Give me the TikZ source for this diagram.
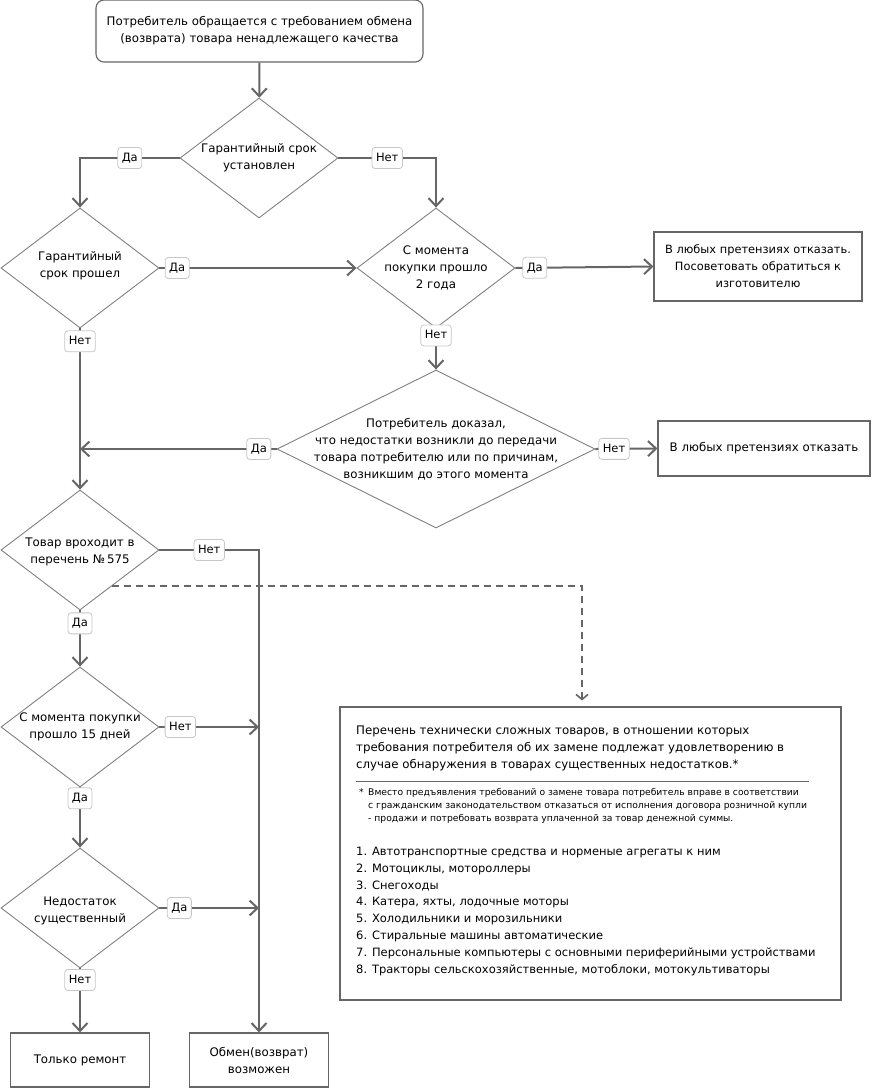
\documentclass[tikz,border=0pt]{standalone}
\usepackage{fontspec}
\setmainfont{DejaVu Sans}
\usetikzlibrary{shapes.geometric,arrows.meta,calc}

\begin{document}
\begin{tikzpicture}[x=1pt,y=-1pt,
    every node/.style={font=\fontsize{11.8}{17}\selectfont},
    dec/.style={diamond,draw=black!50,line width=0.9pt,minimum width=158,minimum height=120,inner sep=0pt},
    dtext/.style={align=center,inner sep=0pt},
    outbox/.style={draw=black!60,line width=1.1pt,align=center,inner sep=0pt},
    lbl/.style={draw=black!22,fill=white,rounded corners=3pt,line width=0.8pt,inner xsep=4pt,inner ysep=0pt,
                minimum height=21,text height=9.5pt,text depth=2.5pt,font=\fontsize{11.5}{14}\selectfont},
    arr/.style={draw=black!60,line width=2pt,-{Straight Barb[length=8pt,width=15pt]}},
    darr/.style={draw=black!60,line width=1.6pt,dash pattern=on 7pt off 5pt,-{Straight Barb[length=5pt,width=12pt]},shorten >=6pt}]

    \useasboundingbox (0,0) rectangle (873,1088);

    \node[outbox,rounded corners=8pt,minimum width=327,minimum height=62] (start) at (259.5,31)
        {Потребитель обращается с требованием обмена\\(возврата) товара ненадлежащего качества};

    \node[dec] (d1) at (259,158) {};
    \node[dtext] at (d1) {Гарантийный срок\\установлен};

    \node[dec] (d2) at (80,268) {};
    \node[dtext] at ($(d2)+(0,-2)$) {Гарантийный\\срок прошел};

    \node[dec] (d3) at (436,268) {};
    \node[dtext] at (d3) {С момента\\покупки прошло\\2 года};

    \node[outbox,minimum width=208,minimum height=69,font=\fontsize{11.4}{17}\selectfont] (refuse1) at (758,266.5)
        {В любых претензиях отказать.\\Посоветовать обратиться к\\изготовителю};

    \node[dec,minimum width=318,minimum height=158] (d4) at (436,449) {};
    \node[dtext] at (d4) {Потребитель доказал,\\что недостатки возникли до передачи\\товара потребителю или по причинам,\\возникшим до этого момента};

    \node[outbox,minimum width=212,minimum height=55] (refuse2) at (764,448.5) {В любых претензиях отказать};

    \node[dec] (d5) at (80,550) {};
    \node[dtext] at ($(d5)+(0,2)$) {Товар вроходит в\\перечень №\,575};

    \node[dec] (d6) at (80,727) {};
    \node[dtext] at (d6) {С момента покупки\\прошло 15 дней};

    \node[dec] (d7) at (80,908) {};
    \node[dtext] at ($(d7)+(0,3)$) {Недостаток\\существенный};

    \node[outbox,minimum width=139,minimum height=54] (repair) at (80,1060) {Только ремонт};
    \node[outbox,minimum width=139,minimum height=54] (swap) at (259,1060) {Обмен(возврат)\\возможен};

    \node[outbox,minimum width=501,minimum height=293] (list) at (590.5,853.5) {};
    \node[anchor=north west,align=left,inner sep=0pt] (head) at (356,726)
        {Перечень технически сложных товаров, в отношении которых\\
         требования потребителя об их замене подлежат удовлетворению в\\
         случае обнаружения в товарах существенных недостатков.*};
    \draw[black!60,line width=0.8pt] (356,781) -- (809,781);
    \node[anchor=north west,inner sep=0pt,font=\fontsize{9.2}{13}\selectfont] (star) at (359,788) {*};
    \node[anchor=north west,align=left,inner sep=0pt,font=\fontsize{9.2}{13}\selectfont] (fnote) at (368,788)
        {Вместо предъявления требований о замене товара потребитель вправе в соответствии\\
         с гражданским законодательством отказаться от исполнения договора розничной купли\\
         - продажи и потребовать возврата уплаченной за товар денежной суммы.};
    \node[anchor=north west,align=left,inner sep=0pt,font=\fontsize{11.5}{16.8}\selectfont] (items) at (356,847)
        {1. Автотранспортные средства и норменые агрегаты к ним\\
         2. Мотоциклы, мотороллеры\\
         3. Снегоходы\\
         4. Катера, яхты, лодочные моторы\\
         5. Холодильники и морозильники\\
         6. Стиральные машины автоматические\\
         7. Персональные компьютеры с основными периферийными устройствами\\
         8. Тракторы сельскохозяйственные, мотоблоки, мотокультиваторы};

    \coordinate (j1) at (d2.south |- d4.west);
    \coordinate (j2) at (swap.north |- d6.east);
    \coordinate (j3) at (swap.north |- d7.east);
    \coordinate (dstart) at ($(d5.east)!0.6!(d5.south)$);

    \draw[arr] (start) -- (d1);
    \draw[arr] (d1.west) -| node[lbl,pos=0.25] (l1) {Да} (d2.north);
    \draw[arr] (d1.east) -| node[lbl,pos=0.25] (l2) {Нет} (d3.north);
    \draw[arr] (d2.east) -- node[lbl,pos=0.09] (l3) {Да} (d3.west);
    \draw[arr] (d3.east) -- node[lbl,pos=0.14] (l4) {Да} (refuse1.west);
    \draw[arr] (d3.south) -- node[lbl,pos=0.17] (l5) {Нет} (d4.north);
    \draw[arr] (d4.west) -- node[lbl,pos=0.09] (l6) {Да} (j1);
    \draw[arr] (d4.east) -- node[lbl,pos=0.3] (l7) {Нет} (refuse2.west);
    \draw[arr] (d2.south) -- node[lbl,pos=0.08] (l8) {Нет} (d5.north);
    \draw[arr] (d5.east) -| node[lbl,pos=0.25] (l9) {Нет} (swap.north);
    \draw[arr] (d5.south) -- node[lbl,pos=0.23] (l10) {Да} (d6.north);
    \draw[arr] (d6.east) -- node[lbl,pos=0.21] (l11) {Нет} (j2);
    \draw[arr] (d6.south) -- node[lbl,pos=0.18] (l12) {Да} (d7.north);
    \draw[arr] (d7.east) -- node[lbl,pos=0.2] (l13) {Да} (j3);
    \draw[arr] (d7.south) -- node[lbl,pos=0.18] (l14) {Нет} (repair.north);
    \draw[darr] (dstart) -| ([xshift=-8.5]list.north);
\end{tikzpicture}
\end{document}
